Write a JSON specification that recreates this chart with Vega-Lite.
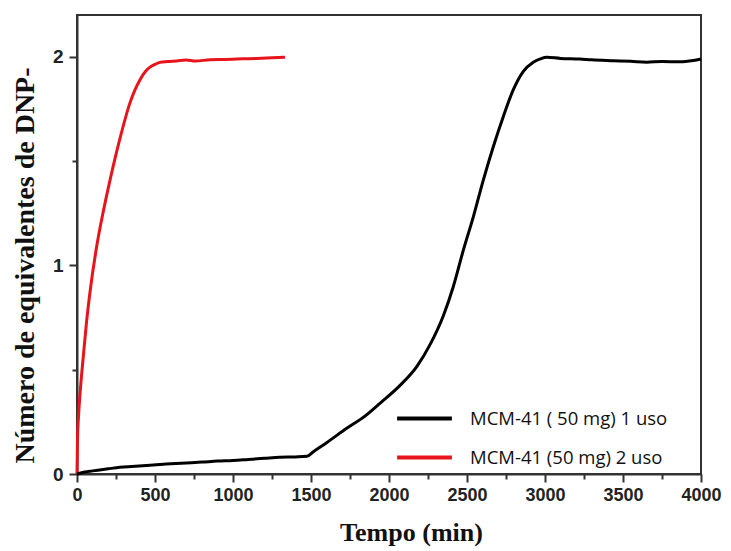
{
  "$schema": "https://vega.github.io/schema/vega-lite/v6.json",
  "width": 624,
  "height": 459,
  "autosize": "none",
  "padding": {"left": 77, "top": 15, "right": 30, "bottom": 77},
  "background": "white",
  "config": {"view": {"stroke": "#333", "strokeWidth": 2}},
  "data": {"values": [
    {"s": "MCM-41  (50 mg) 2 uso", "t": 0, "v": 0},
    {"s": "MCM-41  (50 mg) 2 uso", "t": 3, "v": 0.16},
    {"s": "MCM-41  (50 mg) 2 uso", "t": 10, "v": 0.28},
    {"s": "MCM-41  (50 mg) 2 uso", "t": 20, "v": 0.39},
    {"s": "MCM-41  (50 mg) 2 uso", "t": 40, "v": 0.56},
    {"s": "MCM-41  (50 mg) 2 uso", "t": 60, "v": 0.72},
    {"s": "MCM-41  (50 mg) 2 uso", "t": 83, "v": 0.87},
    {"s": "MCM-41  (50 mg) 2 uso", "t": 126, "v": 1.09},
    {"s": "MCM-41  (50 mg) 2 uso", "t": 169, "v": 1.26},
    {"s": "MCM-41  (50 mg) 2 uso", "t": 212, "v": 1.41},
    {"s": "MCM-41  (50 mg) 2 uso", "t": 276, "v": 1.61},
    {"s": "MCM-41  (50 mg) 2 uso", "t": 340, "v": 1.78},
    {"s": "MCM-41  (50 mg) 2 uso", "t": 404, "v": 1.89},
    {"s": "MCM-41  (50 mg) 2 uso", "t": 440, "v": 1.93},
    {"s": "MCM-41  (50 mg) 2 uso", "t": 468, "v": 1.95},
    {"s": "MCM-41  (50 mg) 2 uso", "t": 500, "v": 1.963},
    {"s": "MCM-41  (50 mg) 2 uso", "t": 532, "v": 1.973},
    {"s": "MCM-41  (50 mg) 2 uso", "t": 580, "v": 1.977},
    {"s": "MCM-41  (50 mg) 2 uso", "t": 639, "v": 1.98},
    {"s": "MCM-41  (50 mg) 2 uso", "t": 700, "v": 1.984},
    {"s": "MCM-41  (50 mg) 2 uso", "t": 760, "v": 1.979},
    {"s": "MCM-41  (50 mg) 2 uso", "t": 853, "v": 1.986},
    {"s": "MCM-41  (50 mg) 2 uso", "t": 950, "v": 1.987},
    {"s": "MCM-41  (50 mg) 2 uso", "t": 1066, "v": 1.99},
    {"s": "MCM-41  (50 mg) 2 uso", "t": 1150, "v": 1.992},
    {"s": "MCM-41  (50 mg) 2 uso", "t": 1250, "v": 1.995},
    {"s": "MCM-41  (50 mg) 2 uso", "t": 1333, "v": 1.998},
    {"s": "MCM-41  ( 50 mg) 1 uso", "t": 0, "v": 0},
    {"s": "MCM-41  ( 50 mg) 1 uso", "t": 50, "v": 0.01},
    {"s": "MCM-41  ( 50 mg) 1 uso", "t": 100, "v": 0.015},
    {"s": "MCM-41  ( 50 mg) 1 uso", "t": 200, "v": 0.025},
    {"s": "MCM-41  ( 50 mg) 1 uso", "t": 276, "v": 0.032},
    {"s": "MCM-41  ( 50 mg) 1 uso", "t": 350, "v": 0.036},
    {"s": "MCM-41  ( 50 mg) 1 uso", "t": 489, "v": 0.043},
    {"s": "MCM-41  ( 50 mg) 1 uso", "t": 600, "v": 0.049},
    {"s": "MCM-41  ( 50 mg) 1 uso", "t": 700, "v": 0.053},
    {"s": "MCM-41  ( 50 mg) 1 uso", "t": 800, "v": 0.057},
    {"s": "MCM-41  ( 50 mg) 1 uso", "t": 900, "v": 0.062},
    {"s": "MCM-41  ( 50 mg) 1 uso", "t": 1000, "v": 0.065},
    {"s": "MCM-41  ( 50 mg) 1 uso", "t": 1100, "v": 0.07},
    {"s": "MCM-41  ( 50 mg) 1 uso", "t": 1200, "v": 0.075},
    {"s": "MCM-41  ( 50 mg) 1 uso", "t": 1300, "v": 0.08},
    {"s": "MCM-41  ( 50 mg) 1 uso", "t": 1400, "v": 0.082},
    {"s": "MCM-41  ( 50 mg) 1 uso", "t": 1474, "v": 0.085},
    {"s": "MCM-41  ( 50 mg) 1 uso", "t": 1515, "v": 0.107},
    {"s": "MCM-41  ( 50 mg) 1 uso", "t": 1600, "v": 0.15},
    {"s": "MCM-41  ( 50 mg) 1 uso", "t": 1729, "v": 0.219},
    {"s": "MCM-41  ( 50 mg) 1 uso", "t": 1850, "v": 0.28},
    {"s": "MCM-41  ( 50 mg) 1 uso", "t": 1942, "v": 0.339},
    {"s": "MCM-41  ( 50 mg) 1 uso", "t": 2071, "v": 0.425},
    {"s": "MCM-41  ( 50 mg) 1 uso", "t": 2178, "v": 0.515},
    {"s": "MCM-41  ( 50 mg) 1 uso", "t": 2263, "v": 0.62},
    {"s": "MCM-41  ( 50 mg) 1 uso", "t": 2349, "v": 0.76},
    {"s": "MCM-41  ( 50 mg) 1 uso", "t": 2413, "v": 0.9},
    {"s": "MCM-41  ( 50 mg) 1 uso", "t": 2477, "v": 1.074},
    {"s": "MCM-41  ( 50 mg) 1 uso", "t": 2541, "v": 1.234},
    {"s": "MCM-41  ( 50 mg) 1 uso", "t": 2605, "v": 1.41},
    {"s": "MCM-41  ( 50 mg) 1 uso", "t": 2669, "v": 1.57},
    {"s": "MCM-41  ( 50 mg) 1 uso", "t": 2733, "v": 1.714},
    {"s": "MCM-41  ( 50 mg) 1 uso", "t": 2797, "v": 1.842},
    {"s": "MCM-41  ( 50 mg) 1 uso", "t": 2861, "v": 1.93},
    {"s": "MCM-41  ( 50 mg) 1 uso", "t": 2925, "v": 1.974},
    {"s": "MCM-41  ( 50 mg) 1 uso", "t": 2970, "v": 1.99},
    {"s": "MCM-41  ( 50 mg) 1 uso", "t": 3011, "v": 1.998},
    {"s": "MCM-41  ( 50 mg) 1 uso", "t": 3100, "v": 1.992},
    {"s": "MCM-41  ( 50 mg) 1 uso", "t": 3224, "v": 1.989},
    {"s": "MCM-41  ( 50 mg) 1 uso", "t": 3300, "v": 1.985},
    {"s": "MCM-41  ( 50 mg) 1 uso", "t": 3438, "v": 1.981},
    {"s": "MCM-41  ( 50 mg) 1 uso", "t": 3550, "v": 1.978},
    {"s": "MCM-41  ( 50 mg) 1 uso", "t": 3652, "v": 1.974},
    {"s": "MCM-41  ( 50 mg) 1 uso", "t": 3750, "v": 1.977},
    {"s": "MCM-41  ( 50 mg) 1 uso", "t": 3865, "v": 1.976},
    {"s": "MCM-41  ( 50 mg) 1 uso", "t": 3950, "v": 1.982},
    {"s": "MCM-41  ( 50 mg) 1 uso", "t": 4000, "v": 1.989}
  ]},
  "layer": [
    {
      "mark": {"type": "line", "strokeWidth": 3, "interpolate": "monotone"},
      "encoding": {
        "x": {"field": "t", "type": "quantitative",
          "scale": {"domain": [0, 4000], "nice": false, "zero": false},
          "axis": {"values": [0, 500, 1000, 1500, 2000, 2500, 3000, 3500, 4000], "format": "d", "orient": "bottom",
            "title": "Tempo (min)", "grid": false, "domainColor": "#333", "domainWidth": 2,
            "tickColor": "#333", "tickWidth": 2, "tickSize": 8,
            "labelFont": "Liberation Sans", "labelFontWeight": "bold", "labelFontSize": 18, "labelColor": "#222",
            "labelPadding": 4, "labelFlush": false,
            "titleFont": "Liberation Serif", "titleFontWeight": "bold", "titleFontSize": 26, "titleColor": "#111",
            "titleX": 334, "titleY": 66, "titleBaseline": "alphabetic", "titleAlign": "center"}},
        "y": {"field": "v", "type": "quantitative",
          "scale": {"domain": [0, 2.2], "nice": false},
          "axis": {"values": [0, 1, 2], "format": "d", "orient": "left", "title": "Número de equivalentes de DNP-", "grid": false,
            "domainColor": "#333", "domainWidth": 2, "tickColor": "#333", "tickWidth": 2, "tickSize": 8,
            "labelFont": "Liberation Sans", "labelFontWeight": "bold", "labelFontSize": 19, "labelColor": "#222",
            "labelPadding": 6, "labelFlush": false,
            "titleFont": "Liberation Serif", "titleFontWeight": "bold", "titleFontSize": 28, "titleColor": "#111",
            "titleX": -44, "titleY": 250, "titleBaseline": "alphabetic", "titleAlign": "center", "titleAngle": -90}},
        "color": {"field": "s", "type": "nominal",
          "scale": {"domain": ["MCM-41  ( 50 mg) 1 uso", "MCM-41  (50 mg) 2 uso"], "range": ["#000000", "#e8141c"]},
          "legend": {"title": null, "orient": "none", "legendX": 318, "legendY": 374,
            "symbolType": "stroke", "symbolSize": 3000, "symbolStrokeWidth": 4,
            "labelFont": "Open Sans", "labelFontSize": 18.5, "labelColor": "#111", "labelOffset": 16, "labelLimit": 0,
            "rowPadding": -37}}
      }
    },
    {
      "mark": {"type": "rule", "opacity": 0},
      "encoding": {
        "x": {"field": "t", "type": "quantitative",
          "axis": {"values": [250, 750, 1250, 1750, 2250, 2750, 3250, 3750], "orient": "bottom", "labels": false, "title": null,
            "grid": false, "domain": false, "tickColor": "#333", "tickWidth": 2, "tickSize": 5}},
        "y": {"field": "v", "type": "quantitative",
          "axis": {"values": [0.5, 1.5], "orient": "left", "labels": false, "title": null,
            "grid": false, "domain": false, "tickColor": "#333", "tickWidth": 2, "tickSize": 5}}
      }
    }
  ],
  "resolve": {"axis": {"x": "independent", "y": "independent"}}
}
